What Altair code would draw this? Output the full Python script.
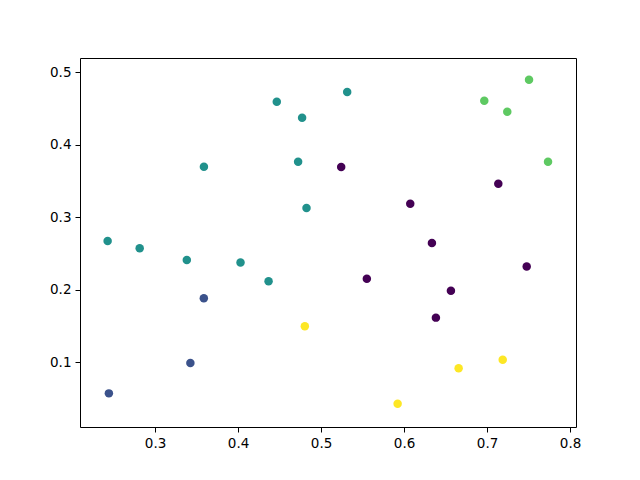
import altair as alt
import pandas as pd

# Cluster 0 (dark purple)
x0 = [0.5243, 0.6075, 0.6336, 0.7478, 0.5552, 0.6565, 0.6384, 0.7136]
y0 = [0.3695, 0.3189, 0.2647, 0.2324, 0.2154, 0.1989, 0.1617, 0.3465]
# Cluster 1 (blue)
x1 = [0.3588, 0.3426, 0.2444]
y1 = [0.1884, 0.0990, 0.0572]
# Cluster 2 (teal)
x2 = [0.2429, 0.2815, 0.3383, 0.4030, 0.4368, 0.3589, 0.4467, 0.4772, 0.4724, 0.4825, 0.5315]
y2 = [0.2675, 0.2575, 0.2413, 0.2376, 0.2119, 0.3697, 0.4596, 0.4375, 0.3768, 0.3130, 0.4730]
# Cluster 3 (green)
x3 = [0.6967, 0.7244, 0.7506, 0.7735]
y3 = [0.4610, 0.4458, 0.4899, 0.3768]
# Cluster 4 (yellow)
x4 = [0.4805, 0.6658, 0.7189, 0.5923]
y4 = [0.1497, 0.0917, 0.1037, 0.0430]

colors = ["#440154", "#3b528b", "#21918c", "#5ec962", "#fde725"]
x_ticks = [0.3, 0.4, 0.5, 0.6, 0.7, 0.8]
y_ticks = [0.1, 0.2, 0.3, 0.4, 0.5]

rows = []
for k, (xs, ys) in enumerate([(x0, y0), (x1, y1), (x2, y2), (x3, y3), (x4, y4)]):
    for a, b in zip(xs, ys):
        rows.append({"x": a, "y": b, "cluster": k})
df = pd.DataFrame(rows)

axis_common = dict(
    grid=False, domain=False, tickColor="black", tickSize=5, tickWidth=1,
    labelColor="black", labelFont="DejaVu Sans", labelFontSize=13.5,
    labelPadding=4, format=".1f", title=None,
)

chart = alt.Chart(df).mark_circle(size=72, opacity=1).encode(
    x=alt.X("x:Q", scale=alt.Scale(domain=[0.2096, 0.8072], nice=False, zero=False),
            axis=alt.Axis(values=x_ticks, **axis_common)),
    y=alt.Y("y:Q", scale=alt.Scale(domain=[0.0108, 0.5199], nice=False, zero=False),
            axis=alt.Axis(values=y_ticks, **axis_common)),
    color=alt.Color("cluster:O", scale=alt.Scale(domain=[0, 1, 2, 3, 4], range=colors), legend=None),
).properties(
    width=496, height=369,
    autosize=alt.AutoSizeParams(type="none"),
    padding={"left": 72, "top": 50, "right": 56, "bottom": 45},
).configure_view(stroke="black", strokeWidth=1)

chart.save("out.html", embed_options={"renderer": "svg", "actions": False})
